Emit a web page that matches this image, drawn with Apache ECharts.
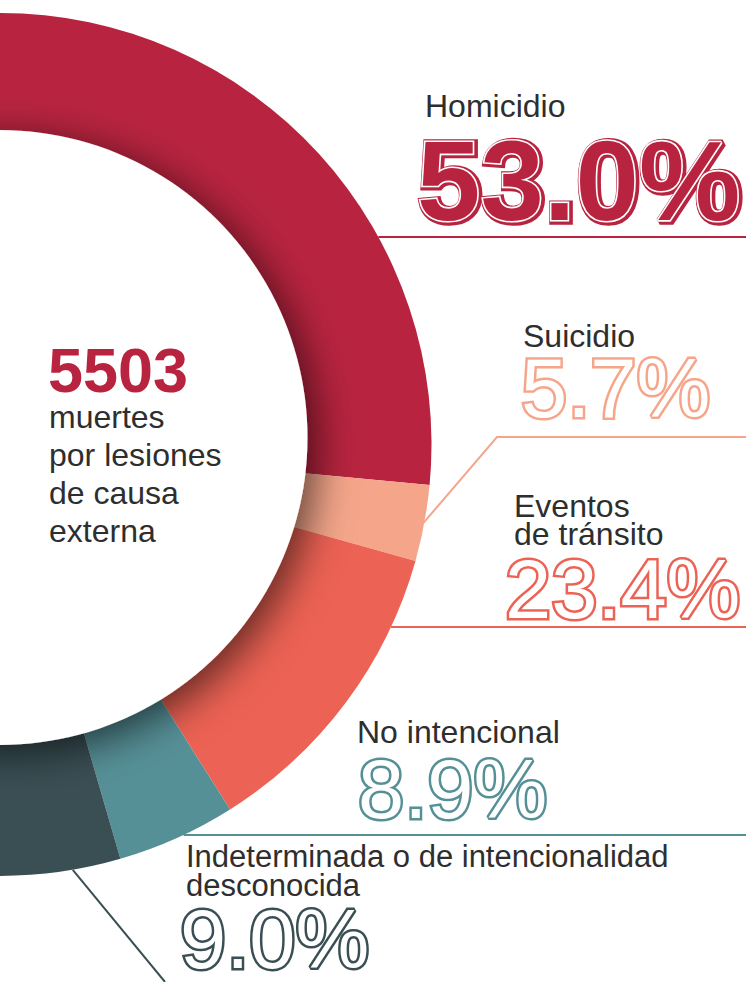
<!DOCTYPE html>
<html><head><meta charset="utf-8">
<script src="https://cdn.jsdelivr.net/npm/echarts@6/dist/echarts.min.js"></script>
<style>html,body{margin:0;padding:0;background:#fff}#c{width:746px;height:982px}</style>
</head><body><div id="c"></div>
<script>
// ---------- DATA ----------
const categories = ['Homicidio', 'Suicidio', 'Eventos de tránsito', 'No intencional', 'Indeterminada o de intencionalidad desconocida'];
const categoryLabelLines = [['Homicidio'], ['Suicidio'], ['Eventos', 'de tránsito'], ['No intencional'], ['Indeterminada o de intencionalidad', 'desconocida']];
const percentages = [53.0, 5.7, 23.4, 8.9, 9.0];
const totalDeaths = 5503;
const centerCaption = ['muertes', 'por lesiones', 'de causa', 'externa'];

// ---------- STYLE / LAYOUT ----------
const colors = ['#B8243F', '#F5A68A', '#EC6254', '#569097', '#3A4F54'];
const RING = { cx: 0, cy: 444.5, R: 431.5 };
const HOLE = { cx: 0, cy: 437.5, r: 307.5 };
const FONT = '"Liberation Sans", Arial, Helvetica, sans-serif';
const TEXT_COLOR = '#2e2e2e';
const K = 0.3465; // baseline -> middle offset factor
const W = 746;

// label layout: name [x, firstBaseline, lineGap, size], pct [x, baseline, size]
const labelLayout = [
  { name: [425, 117, 32, 32], pct: [417, 220, 114] },
  { name: [523, 347, 32, 32], pct: [521, 417, 83] },
  { name: [514, 517, 28, 32], pct: [505, 618, 83] },
  { name: [357, 743, 32, 32], pct: [358, 818, 83] },
  { name: [186, 867, 29.5, 31], pct: [180, 968, 83] }
];
const leaderLayout = [
  { kind: 'h', y: 237 },
  { kind: 'elbow', elbow: [497, 437], y: 437 },
  { kind: 'h', y: 627 },
  { kind: 'h', y: 835 },
  { kind: 'diag', from: [45, 836], to: [165, 982] }
];

const chart = echarts.init(document.getElementById('c'), null, { renderer: 'svg', width: 746, height: 982 });

const total = percentages.reduce((a, b) => a + b, 0);
let acc = 0;
const midAngles = percentages.map(v => { const a = acc + (v / total) * 90; acc += (v / total) * 180; return a; });
function polar(deg, r) { const t = deg * Math.PI / 180; return [RING.cx + r * Math.sin(t), RING.cy - r * Math.cos(t)]; }
function dist(p) { return Math.hypot(p[0] - RING.cx, p[1] - RING.cy); }
function edgeBetween(pin, pout) {
  let lo = 0, hi = 1;
  for (let i = 0; i < 40; i++) {
    const m = (lo + hi) / 2;
    const p = [pin[0] + (pout[0] - pin[0]) * m, pin[1] + (pout[1] - pin[1]) * m];
    if (dist(p) < RING.R) lo = m; else hi = m;
  }
  return [pin[0] + (pout[0] - pin[0]) * lo, pin[1] + (pout[1] - pin[1]) * lo];
}
// lines: array of strings; base: first-line baseline; lh: line height
function txt(lines, x, base, size, lh, style, z) {
  return {
    type: 'text', z: z || 10, silent: true,
    style: Object.assign({
      text: lines.join('\n'), x: x, y: base - K * size - lh / 2,
      font: (style.weight || 'normal') + ' ' + size + 'px ' + FONT,
      lineHeight: lh,
      fill: style.fill || TEXT_COLOR,
      align: 'left', verticalAlign: 'top', textAlign: 'left', textVerticalAlign: 'top'
    }, style.extra || {})
  };
}

const graphics = [];
// leader lines
leaderLayout.forEach((L, i) => {
  let pts;
  if (L.kind === 'h') {
    const start = edgeBetween([RING.cx, L.y], [W, L.y]);
    pts = [start, [W, L.y]];
  } else if (L.kind === 'elbow') {
    const start = polar(midAngles[i], RING.R - 1);
    pts = [start, L.elbow, [W, L.y]];
  } else {
    const start = edgeBetween(L.from, L.to);
    pts = [start, L.to];
  }
  graphics.push({ type: 'polyline', z: 10, silent: true, shape: { points: pts }, style: { stroke: colors[i], lineWidth: 2, fill: null } });
});
// labels
categoryLabelLines.forEach((lines, i) => {
  const lay = labelLayout[i];
  graphics.push(txt(lines, lay.name[0], lay.name[1], lay.name[3], lay.name[2], {}));
  const pctText = percentages[i].toFixed(1) + '%';
  const [px, pb, ps] = lay.pct;
  const lh = Math.round(ps * 0.74);
  if (i === 0) {
    graphics.push(txt([pctText], px + 1.5, pb + 1.5, ps, lh, { weight: 'bold', fill: colors[i], extra: { stroke: colors[i], lineWidth: 7.5, lineJoin: 'round' } }, 10));
    graphics.push(txt([pctText], px, pb, ps, lh, { weight: 'bold', fill: colors[i], extra: { stroke: '#ffffff', lineWidth: 3.2, lineJoin: 'round' } }, 11));
  } else {
    graphics.push(txt([pctText], px, pb, ps, lh, { weight: 'normal', fill: '#ffffff', extra: { stroke: colors[i], lineWidth: 5, lineJoin: 'miter' } }, 11));
  }
});
// center text
graphics.push(txt([String(totalDeaths)], 48, 392, 63, 50, { weight: 'bold', fill: colors[0] }, 20));
graphics.push(txt(centerCaption, 49, 428, 32, 38, {}, 20));

chart.setOption({
  animation: false,
  backgroundColor: '#ffffff',
  series: [
    {
      type: 'pie', silent: true, z: 2,
      center: [RING.cx, RING.cy], radius: [0, RING.R],
      startAngle: 90, endAngle: -90, clockwise: true,
      label: { show: false }, labelLine: { show: false },
      itemStyle: { borderWidth: 0 },
      emphasis: { disabled: true },
      data: categories.map((c, i) => ({ name: c, value: percentages[i], itemStyle: { color: colors[i] } }))
    },
    {
      type: 'pie', silent: true, z: 3,
      center: [HOLE.cx, HOLE.cy], radius: [0, HOLE.r],
      label: { show: false }, labelLine: { show: false },
      emphasis: { disabled: true },
      data: [{ name: 'hole', value: 1, itemStyle: { color: '#ffffff', shadowBlur: 40, shadowColor: 'rgba(0,0,0,0.6)', shadowOffsetX: 9, shadowOffsetY: 9 } }]
    }
  ],
  graphic: graphics
});
</script></body></html>
